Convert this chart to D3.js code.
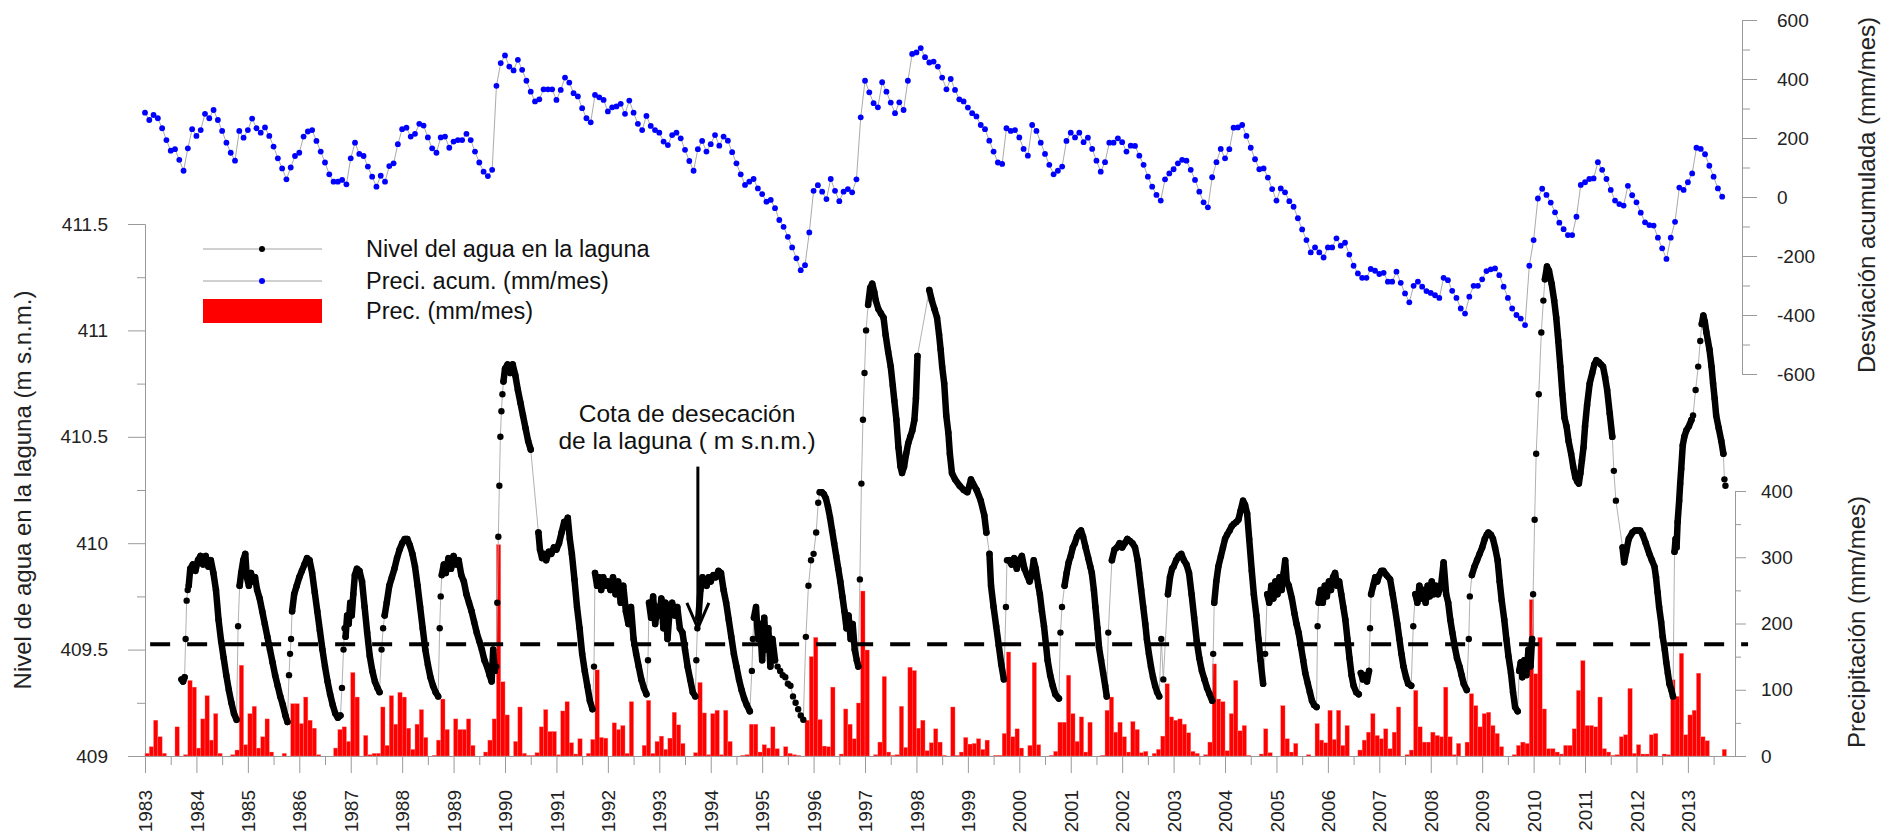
<!DOCTYPE html>
<html lang="es">
<head>
<meta charset="utf-8">
<title>Nivel de la laguna y precipitación</title>
<script src="https://cdn.jsdelivr.net/npm/d3@7/dist/d3.min.js"></script>
<style>
  body { margin: 0; background: #fff; }
  svg { display: block; font-family: Arial, "Liberation Sans", sans-serif; }
  .axis path, .axis line { stroke: #9a9a9a; stroke-width: 1; }
  .axis text { fill: #222; font-size: 19px; font-family: Arial, "Liberation Sans", sans-serif; }
</style>
</head>
<body>
<div id="graph"></div>
<script>
// ---------- datos ----------
const anios = d3.range(1983, 2014);              // etiquetas del eje X
const tickNivel = [409, 409.5, 410, 410.5, 411, 411.5];
const tickDesv = [-600, -400, -200, 0, 200, 400, 600];
const tickPrec = [0, 100, 200, 300, 400];
const cotaDesecacion = 409.525;

// precipitación mensual (mm/mes), una fila por año, ene..dic
const precMensual = [
  [4, 14, 54, 29, 4, 0, 0, 44, 0, 2, 114, 104],      // 1983
  [12, 56, 91, 24, 64, 4, 0, 0, 2, 9, 137, 17],      // 1984
  [64, 75, 12, 29, 56, 6, 0, 0, 4, 0, 79, 79],       // 1985
  [49, 89, 54, 42, 2, 0, 0, 0, 12, 40, 44, 22],      // 1986
  [126, 89, 0, 31, 2, 4, 4, 74, 16, 91, 48, 96],     // 1987
  [89, 42, 10, 48, 70, 28, 0, 1, 24, 86, 40, 0],     // 1988
  [56, 40, 40, 56, 16, 0, 0, 6, 24, 56, 319, 112],   // 1989
  [62, 0, 22, 74, 4, 1, 1, 5, 44, 70, 37, 37],       // 1990
  [2, 68, 82, 20, 3, 26, 0, 4, 25, 130, 28, 27],     // 1991
  [0, 50, 40, 46, 4, 82, 0, 0, 16, 84, 4, 22],       // 1992
  [30, 10, 27, 66, 47, 19, 0, 0, 5, 111, 65, 2],     // 1993
  [64, 69, 2, 69, 22, 0, 0, 1, 2, 48, 48, 6],        // 1994
  [17, 12, 44, 11, 0, 14, 4, 2, 1, 0, 54, 150],      // 1995
  [179, 55, 15, 14, 104, 0, 3, 71, 48, 26, 80, 249], // 1996
  [160, 0, 2, 21, 120, 6, 1, 2, 75, 13, 134, 129],   // 1997
  [42, 54, 8, 20, 41, 21, 1, 0, 74, 1, 6, 28],       // 1998
  [18, 19, 26, 10, 24, 0, 1, 1, 34, 157, 29, 41],    // 1999
  [12, 0, 16, 141, 17, 0, 0, 1, 7, 51, 51, 122],     // 2000
  [64, 22, 59, 6, 51, 0, 0, 1, 69, 89, 36, 51],      // 2001
  [29, 6, 52, 40, 5, 7, 0, 4, 10, 30, 109, 59],      // 2002
  [54, 56, 48, 35, 7, 4, 0, 2, 21, 139, 86, 82],     // 2003
  [8, 64, 114, 38, 46, 1, 0, 0, 3, 41, 5, 0],        // 2004
  [0, 76, 26, 6, 19, 0, 0, 2, 0, 49, 24, 20],        // 2005
  [69, 25, 69, 16, 46, 0, 0, 9, 24, 36, 64, 31],     // 2006
  [26, 41, 11, 36, 74, 0, 2, 9, 99, 44, 21, 21],     // 2007
  [36, 31, 29, 104, 29, 2, 19, 0, 21, 94, 76, 44],   // 2008
  [64, 66, 46, 34, 14, 0, 0, 2, 16, 21, 19, 236],    // 2009
  [124, 179, 71, 11, 11, 6, 3, 16, 16, 41, 99, 144], // 2010
  [46, 46, 44, 89, 11, 6, 1, 2, 29, 32, 102, 4],     // 2011
  [17, 3, 3, 32, 34, 0, 3, 2, 115, 90, 155, 32],     // 2012
  [62, 69, 125, 29, 23, 0, 0, 0, 10, 0, 0, 0]        // 2013
];

// desviación acumulada de la precipitación (mm/mes), un valor por mes desde enero de 1983
const desviacion = [
  286, 261, 278, 267, 233, 193, 157, 162, 126, 89, 165, 230,
  207, 227, 282, 267, 295, 261, 224, 184, 150, 123, 224, 201,
  227, 266, 233, 218, 236, 207, 171, 131, 97, 60, 100, 139,
  150, 205, 222, 227, 190, 154, 117, 77, 52, 52, 58, 43,
  131, 184, 146, 139, 103, 69, 35, 72, 52, 105, 114, 179,
  230, 235, 205, 214, 248, 242, 202, 165, 150, 202, 205, 167,
  188, 193, 193, 214, 193, 154, 117, 86, 71, 92, 377, 454,
  480, 442, 429, 465, 431, 394, 357, 324, 331, 365, 365, 365,
  329, 363, 405, 388, 352, 341, 301, 267, 253, 346, 338, 329,
  290, 304, 307, 316, 282, 327, 286, 248, 227, 275, 241, 227,
  218, 188, 176, 210, 218, 199, 160, 122, 89, 162, 190, 154,
  179, 210, 174, 205, 191, 152, 114, 77, 41, 52, 61, 29,
  10, -16, -10, -38, -78, -101, -135, -171, -208, -248, -231, -120,
  21, 40, 18, -7, 61, 21, -14, 18, 27, 16, 60, 270,
  394, 355, 318, 304, 389, 357, 320, 284, 321, 295, 394, 485,
  490, 505, 474, 456, 459, 442, 405, 365, 400, 363, 331, 324,
  303, 284, 273, 244, 230, 191, 154, 117, 112, 233, 224, 227,
  202, 163, 140, 244, 224, 184, 146, 109, 77, 89, 103, 190,
  218, 202, 218, 186, 201, 163, 123, 86, 118, 184, 184, 199,
  186, 154, 174, 173, 140, 109, 69, 35, 7, -12, 60, 80,
  94, 114, 126, 123, 92, 58, 18, -18, -35, 67, 118, 163,
  131, 162, 235, 236, 244, 207, 167, 128, 94, 97, 66, 27,
  -12, 29, 16, -14, -33, -72, -110, -146, -188, -171, -188, -205,
  -171, -171, -140, -165, -155, -195, -233, -259, -274, -274, -244, -250,
  -261, -257, -287, -287, -253, -291, -327, -357, -301, -287, -304, -319,
  -325, -333, -342, -274, -282, -318, -342, -378, -395, -338, -301, -301,
  -279, -251, -245, -242, -265, -304, -342, -378, -400, -412, -434, -233,
  -146, -5, 28, 7, -19, -52, -87, -109, -129, -129, -67, 41,
  50, 61, 63, 118, 92, 61, 24, -12, -24, -29, 38, 6,
  -18, -53, -86, -95, -97, -138, -174, -210, -138, -84, 32, 24,
  50, 80, 167, 163, 145, 106, 69, 29, 1
];

// nivel del agua en la laguna (m s.n.m.): tramos de medidas seguidas [año decimal, nivel]
const nivelTramos = [
  [[1983.71,409.36],[1983.74,409.35],[1983.77,409.37]],
  [[1983.85,409.8],[1983.88,409.88],[1983.93,409.9],[1983.98,409.87],[1984.03,409.92],[1984.08,409.94],[1984.13,409.9],[1984.18,409.94],[1984.23,409.89],[1984.28,409.92],[1984.33,409.86],[1984.38,409.78],[1984.43,409.64],[1984.48,409.54],[1984.53,409.46],[1984.58,409.38],[1984.63,409.31],[1984.68,409.25],[1984.73,409.2],[1984.78,409.17]],
  [[1984.84,409.8],[1984.87,409.86],[1984.91,409.92],[1984.95,409.95],[1984.98,409.84],[1985.02,409.8],[1985.06,409.86],[1985.1,409.82],[1985.14,409.84],[1985.18,409.78],[1985.23,409.74],[1985.28,409.68],[1985.33,409.62],[1985.38,409.56],[1985.43,409.5],[1985.48,409.44],[1985.53,409.38],[1985.58,409.33],[1985.63,409.28],[1985.68,409.24],[1985.73,409.19],[1985.77,409.16]],
  [[1985.86,409.68],[1985.9,409.76],[1985.95,409.8],[1986.0,409.84],[1986.05,409.87],[1986.1,409.9],[1986.15,409.93],[1986.2,409.92],[1986.25,409.86],[1986.3,409.77],[1986.35,409.68],[1986.4,409.59],[1986.45,409.5],[1986.5,409.42],[1986.55,409.35],[1986.6,409.29],[1986.65,409.24],[1986.7,409.2],[1986.75,409.18],[1986.8,409.19]],
  [[1986.9,409.56],[1986.93,409.66],[1986.96,409.62],[1986.99,409.72],[1987.02,409.66],[1987.05,409.76],[1987.08,409.85],[1987.12,409.88],[1987.17,409.87],[1987.22,409.82],[1987.27,409.7],[1987.32,409.58],[1987.37,409.47],[1987.42,409.4],[1987.47,409.35],[1987.52,409.32],[1987.56,409.3]],
  [[1987.66,409.66],[1987.7,409.72],[1987.75,409.8],[1987.8,409.84],[1987.85,409.88],[1987.9,409.93],[1987.95,409.97],[1988.0,410.0],[1988.05,410.02],[1988.1,410.02],[1988.15,409.99],[1988.2,409.95],[1988.25,409.89],[1988.3,409.8],[1988.35,409.7],[1988.4,409.6],[1988.45,409.5],[1988.5,409.43],[1988.55,409.37],[1988.6,409.33],[1988.65,409.3],[1988.7,409.28]],
  [[1988.77,409.85],[1988.81,409.9],[1988.85,409.86],[1988.9,409.93],[1988.95,409.88],[1989.0,409.94],[1989.05,409.9],[1989.1,409.92],[1989.15,409.85],[1989.2,409.82],[1989.25,409.76],[1989.3,409.72],[1989.35,409.68],[1989.4,409.63],[1989.45,409.58],[1989.5,409.54],[1989.55,409.5],[1989.6,409.45],[1989.65,409.42],[1989.7,409.38],[1989.74,409.35],[1989.77,409.5],[1989.8,409.4]],
  [[1989.97,410.76],[1990.0,410.82],[1990.05,410.84],[1990.1,410.8],[1990.15,410.84],[1990.2,410.79],[1990.25,410.72],[1990.3,410.66],[1990.35,410.6],[1990.4,410.54],[1990.45,410.48],[1990.5,410.44]],
  [[1990.65,410.05],[1990.68,409.97],[1990.72,409.93],[1990.76,409.95],[1990.8,409.92],[1990.85,409.96],[1990.9,409.95],[1990.95,409.98],[1991.0,409.97],[1991.05,410.0],[1991.1,410.05],[1991.15,410.1],[1991.19,410.08],[1991.22,410.12],[1991.26,410.02],[1991.3,409.95],[1991.35,409.83],[1991.4,409.7],[1991.45,409.6],[1991.5,409.48],[1991.55,409.4],[1991.6,409.33],[1991.65,409.26],[1991.7,409.22]],
  [[1991.75,409.86],[1991.79,409.8],[1991.83,409.84],[1991.87,409.78],[1991.91,409.84],[1991.95,409.8],[1992.0,409.82],[1992.05,409.78],[1992.1,409.84],[1992.15,409.76],[1992.2,409.82],[1992.25,409.72],[1992.3,409.8],[1992.35,409.68],[1992.4,409.62],[1992.45,409.7],[1992.5,409.55],[1992.55,409.48],[1992.6,409.42],[1992.65,409.36],[1992.7,409.32],[1992.75,409.29]],
  [[1992.8,409.72],[1992.84,409.65],[1992.88,409.75],[1992.92,409.62],[1992.96,409.7],[1993.0,409.66],[1993.04,409.74],[1993.08,409.6],[1993.12,409.72],[1993.16,409.55],[1993.2,409.68],[1993.25,409.72],[1993.3,409.66],[1993.35,409.7],[1993.4,409.6],[1993.45,409.58],[1993.5,409.5],[1993.55,409.42],[1993.6,409.36],[1993.65,409.3],[1993.7,409.28]],
  [[1993.76,409.65],[1993.8,409.78],[1993.84,409.84],[1993.88,409.82],[1993.92,409.8],[1993.96,409.84],[1994.0,409.82],[1994.05,409.85],[1994.1,409.84],[1994.15,409.87],[1994.2,409.86],[1994.25,409.78],[1994.3,409.72],[1994.35,409.64],[1994.4,409.56],[1994.45,409.48],[1994.5,409.42],[1994.55,409.36],[1994.6,409.31],[1994.65,409.27],[1994.7,409.24],[1994.76,409.21]],
  [[1994.84,409.65],[1994.88,409.7],[1994.92,409.55],[1994.96,409.62],[1995.0,409.45],[1995.04,409.65],[1995.08,409.5],[1995.12,409.6],[1995.16,409.42],[1995.2,409.55],[1995.25,409.45]],
  [[1996.12,410.24],[1996.16,410.24],[1996.2,410.23],[1996.24,410.21],[1996.28,410.17],[1996.32,410.12],[1996.36,410.06],[1996.4,410.0],[1996.44,409.94],[1996.48,409.88],[1996.52,409.82],[1996.56,409.75],[1996.6,409.68],[1996.64,409.6],[1996.68,409.66],[1996.72,409.55],[1996.76,409.62],[1996.8,409.5],[1996.84,409.45],[1996.87,409.42]],
  [[1997.06,411.12],[1997.1,411.2],[1997.14,411.22],[1997.18,411.18],[1997.21,411.14],[1997.26,411.1],[1997.31,411.08],[1997.36,411.06],[1997.4,410.98],[1997.45,410.9],[1997.5,410.83],[1997.54,410.74],[1997.57,410.67],[1997.61,410.58],[1997.65,410.45],[1997.69,410.36],[1997.72,410.33],[1997.76,410.36],[1997.8,410.42],[1997.84,410.47],[1997.88,410.5],[1997.92,410.53],[1997.96,410.58],[1997.99,410.68],[1998.02,410.88]],
  [[1998.25,411.19],[1998.3,411.14],[1998.35,411.1],[1998.4,411.06],[1998.44,410.98],[1998.47,410.91],[1998.5,410.83],[1998.54,410.75],[1998.58,410.6],[1998.62,410.52],[1998.65,410.42],[1998.69,410.33],[1998.75,410.3],[1998.84,410.27],[1998.92,410.25],[1998.99,410.24],[1999.03,410.27],[1999.06,410.3],[1999.1,410.28],[1999.17,410.25],[1999.25,410.2],[1999.32,410.13],[1999.36,410.05]],
  [[1999.42,409.95],[1999.45,409.8],[1999.5,409.7],[1999.55,409.61],[1999.6,409.52],[1999.65,409.43],[1999.7,409.36]],
  [[1999.8,409.92],[1999.85,409.9],[1999.9,409.93],[1999.95,409.88],[2000.0,409.92],[2000.05,409.94],[2000.1,409.88],[2000.15,409.85],[2000.2,409.82],[2000.24,409.85],[2000.28,409.92],[2000.32,409.88],[2000.37,409.8],[2000.4,409.76],[2000.44,409.68],[2000.48,409.61],[2000.52,409.52],[2000.55,409.45],[2000.6,409.38],[2000.65,409.33],[2000.7,409.29],[2000.77,409.27]],
  [[2000.88,409.8],[2000.92,409.86],[2000.96,409.91],[2001.0,409.94],[2001.04,409.98],[2001.08,410.0],[2001.12,410.03],[2001.16,410.05],[2001.2,410.06],[2001.24,410.03],[2001.29,409.98],[2001.34,409.93],[2001.38,409.89],[2001.41,409.86],[2001.45,409.78],[2001.48,409.7],[2001.52,409.6],[2001.55,409.51],[2001.59,409.45],[2001.63,409.39],[2001.67,409.33],[2001.7,409.28]],
  [[2001.8,409.92],[2001.85,409.97],[2001.9,409.98],[2001.95,410.0],[2002.0,409.98],[2002.05,410.0],[2002.1,410.02],[2002.15,410.01],[2002.2,410.0],[2002.25,409.98],[2002.3,409.92],[2002.33,409.86],[2002.37,409.78],[2002.41,409.7],[2002.45,409.62],[2002.48,409.55],[2002.52,409.48],[2002.56,409.42],[2002.6,409.37],[2002.64,409.33],[2002.68,409.3],[2002.72,409.28]],
  [[2002.89,409.76],[2002.93,409.84],[2002.97,409.88],[2003.0,409.89],[2003.05,409.92],[2003.1,409.94],[2003.15,409.95],[2003.2,409.92],[2003.25,409.9],[2003.3,409.86],[2003.35,409.76],[2003.4,409.65],[2003.45,409.54],[2003.5,409.46],[2003.55,409.4],[2003.6,409.36],[2003.65,409.32],[2003.7,409.29],[2003.75,409.26]],
  [[2003.79,409.72],[2003.83,409.82],[2003.87,409.89],[2003.92,409.94],[2003.96,409.98],[2004.0,410.02],[2004.04,410.04],[2004.09,410.06],[2004.13,410.08],[2004.17,410.09],[2004.22,410.1],[2004.26,410.11],[2004.3,410.15],[2004.35,410.2],[2004.39,410.18],[2004.43,410.14],[2004.47,410.02],[2004.52,409.87],[2004.56,409.76],[2004.61,409.66],[2004.65,409.55],[2004.69,409.45],[2004.74,409.34]],
  [[2004.82,409.76],[2004.86,409.72],[2004.9,409.8],[2004.94,409.74],[2004.98,409.82],[2005.02,409.76],[2005.06,409.84],[2005.1,409.78],[2005.14,409.86],[2005.17,409.92],[2005.2,409.82],[2005.24,409.8],[2005.3,409.74],[2005.35,409.67],[2005.39,409.62],[2005.43,409.58],[2005.48,409.51],[2005.52,409.45],[2005.56,409.39],[2005.61,409.34],[2005.65,409.3],[2005.69,409.26],[2005.73,409.24],[2005.78,409.23]],
  [[2005.82,409.72],[2005.86,409.78],[2005.9,409.72],[2005.94,409.8],[2005.98,409.75],[2006.02,409.82],[2006.06,409.78],[2006.1,409.84],[2006.14,409.86],[2006.18,409.8],[2006.22,409.82],[2006.26,409.76],[2006.3,409.7],[2006.34,409.64],[2006.38,409.55],[2006.42,409.46],[2006.46,409.38],[2006.5,409.33],[2006.55,409.3],[2006.6,409.29]],
  [[2006.64,409.39],[2006.68,409.36],[2006.72,409.38],[2006.76,409.35],[2006.8,409.4]],
  [[2006.84,409.76],[2006.88,409.8],[2006.92,409.84],[2006.96,409.82],[2007.0,409.85],[2007.04,409.87],[2007.08,409.87],[2007.14,409.85],[2007.21,409.83],[2007.26,409.76],[2007.3,409.7],[2007.35,409.62],[2007.39,409.55],[2007.43,409.48],[2007.47,409.42],[2007.52,409.37],[2007.56,409.34],[2007.62,409.33]],
  [[2007.7,409.76],[2007.74,409.72],[2007.78,409.8],[2007.82,409.74],[2007.86,409.78],[2007.9,409.72],[2007.94,409.8],[2007.98,409.75],[2008.02,409.82],[2008.06,409.76],[2008.1,409.8],[2008.14,409.76],[2008.2,409.8],[2008.25,409.91],[2008.3,409.76],[2008.34,409.72],[2008.38,409.64],[2008.42,409.58],[2008.47,409.51],[2008.51,409.46],[2008.56,409.42],[2008.6,409.38],[2008.64,409.34],[2008.7,409.31]],
  [[2008.8,409.85],[2008.85,409.89],[2008.9,409.92],[2008.95,409.95],[2009.0,409.98],[2009.05,410.02],[2009.09,410.04],[2009.12,410.05],[2009.17,410.04],[2009.21,410.02],[2009.25,409.98],[2009.3,409.92],[2009.34,409.82],[2009.38,409.73],[2009.43,409.64],[2009.47,409.55],[2009.51,409.47],[2009.56,409.39],[2009.6,409.3],[2009.64,409.23],[2009.69,409.21]],
  [[2009.72,409.4],[2009.75,409.44],[2009.78,409.37],[2009.82,409.45],[2009.86,409.38],[2009.9,409.5],[2009.94,409.42],[2009.97,409.55]],
  [[2010.22,411.24],[2010.26,411.3],[2010.3,411.28],[2010.35,411.22],[2010.4,411.14],[2010.44,411.06],[2010.48,410.95],[2010.52,410.83],[2010.56,410.7],[2010.6,410.59],[2010.64,410.55],[2010.68,410.48],[2010.73,410.42],[2010.77,410.36],[2010.81,410.31],[2010.85,410.29],[2010.88,410.28],[2010.91,410.33],[2010.94,410.39],[2010.97,410.45],[2011.0,410.55],[2011.04,410.65],[2011.09,410.75],[2011.14,410.8],[2011.18,410.84],[2011.22,410.86],[2011.27,410.85],[2011.31,410.84],[2011.35,410.83],[2011.39,410.78],[2011.43,410.72],[2011.48,410.61],[2011.53,410.5]],
  [[2011.73,409.98],[2011.76,409.91],[2011.8,409.96],[2011.85,410.02],[2011.92,410.05],[2011.97,410.06],[2012.02,410.06],[2012.07,410.06],[2012.12,410.04],[2012.18,410.0],[2012.25,409.95],[2012.3,409.92],[2012.35,409.89],[2012.38,409.84],[2012.41,409.77],[2012.44,409.7],[2012.48,409.63],[2012.51,409.56],[2012.55,409.5],[2012.58,409.44],[2012.61,409.39],[2012.64,409.34],[2012.68,409.31],[2012.71,409.28]],
  [[2012.74,409.96],[2012.76,410.02],[2012.78,409.98],[2012.8,410.1],[2012.83,410.2],[2012.85,410.28],[2012.87,410.35],[2012.9,410.46],[2012.93,410.5],[2012.97,410.53],[2013.02,410.55],[2013.07,410.58]],
  [[2013.27,411.03],[2013.3,411.07],[2013.33,411.04],[2013.36,410.99],[2013.39,410.95],[2013.42,410.91],[2013.46,410.83],[2013.49,410.75],[2013.52,410.68],[2013.55,410.6],[2013.6,410.54],[2013.65,410.48],[2013.69,410.42]]
];

// medidas sueltas (subidas rápidas y medidas aisladas)
const nivelSueltos = [
  [1983.79,409.55],[1983.81,409.73],[1983.83,409.78],
  [1984.81,409.61],
  [1985.8,409.38],[1985.82,409.48],[1985.84,409.55],
  [1986.83,409.32],[1986.86,409.5],[1986.88,409.6],
  [1987.6,409.5],[1987.63,409.6],
  [1988.73,409.6],[1988.75,409.75],
  [1989.83,409.42],[1989.85,409.72],[1989.87,410.03],[1989.89,410.27],[1989.91,410.5],[1989.93,410.62],[1989.95,410.7],
  [1991.73,409.42],
  [1992.78,409.45],
  [1993.72,409.45],[1993.74,409.6],
  [1994.8,409.4],[1994.82,409.55],
  [1995.3,409.42],[1995.35,409.4],[1995.4,409.38],[1995.45,409.37],[1995.5,409.34],[1995.55,409.33],[1995.6,409.28],[1995.65,409.25],[1995.7,409.22],[1995.75,409.19],[1995.8,409.17],
  [1995.85,409.56],[1995.9,409.8],[1995.95,409.92],[1996.0,409.95],[1996.05,410.05],[1996.09,410.19],
  [1996.9,409.83],[1996.93,410.28],[1996.96,410.58],[1996.99,410.8],[1997.02,411.0],
  [1999.74,409.7],[1999.76,409.92],
  [2000.8,409.58],[2000.83,409.7],
  [2001.73,409.58],
  [2002.76,409.55],[2002.8,409.36],
  [2003.77,409.48],
  [2004.78,409.48],
  [2005.8,409.61],
  [2006.82,409.6],
  [2007.66,409.61],
  [2008.74,409.55],[2008.76,409.75],
  [2009.99,409.76],[2010.02,410.11],[2010.05,410.42],[2010.1,410.7],[2010.15,410.99],[2010.19,411.14],
  [2011.56,410.34],[2011.6,410.2],
  [2013.1,410.6],[2013.15,410.72],[2013.2,410.83],[2013.24,410.95],
  [2013.71,410.3],[2013.73,410.27]
];

// ---------- dibujo ----------
const width = 1881, height = 836;
const svg = d3.select("#graph").append("svg")
  .attr("width", width).attr("height", height);

svg.append("rect").attr("width", width).attr("height", height).attr("fill", "#fff");

const x = d3.scaleLinear().domain([1983, 2014]).range([145, 145 + 31 * 51.43]);
const yNivel = d3.scaleLinear().domain([409, 411.5]).range([756, 224]);
const yPrec = d3.scaleLinear().domain([0, 400]).range([756, 491]);
const yDesv = d3.scaleLinear().domain([-600, 600]).range([374, 20]);

// eje izquierdo (nivel)
svg.append("g").attr("class", "axis").attr("transform", "translate(145,0)")
  .call(d3.axisLeft(yNivel).tickValues(d3.range(409.25, 411.5, 0.5)).tickSize(8).tickSizeOuter(0).tickFormat(""));
svg.append("g").attr("class", "axis").attr("transform", "translate(145,0)")
  .call(d3.axisLeft(yNivel).tickValues(tickNivel).tickSize(17).tickSizeOuter(0).tickPadding(20).tickFormat(d => d));

// eje inferior (años)
svg.append("g").attr("class", "axis").attr("transform", "translate(0,756)")
  .call(d3.axisBottom(x).tickValues(anios.map(a => a + 0.5)).tickSize(9).tickSizeOuter(0).tickFormat(""));
const gx = svg.append("g").attr("class", "axis").attr("transform", "translate(0,756)")
  .call(d3.axisBottom(x).tickValues(anios).tickSize(17).tickSizeOuter(0).tickFormat(d => d));
gx.selectAll("text")
  .attr("transform", "rotate(-90)")
  .attr("text-anchor", "end")
  .attr("x", -34).attr("y", 0).attr("dy", "0.35em");

// eje derecho superior (desviación acumulada)
svg.append("g").attr("class", "axis").attr("transform", "translate(1742,0)")
  .call(d3.axisRight(yDesv).tickValues(d3.range(-500, 600, 200)).tickSize(8).tickSizeOuter(0).tickFormat(""));
svg.append("g").attr("class", "axis").attr("transform", "translate(1742,0)")
  .call(d3.axisRight(yDesv).tickValues(tickDesv).tickSize(15).tickSizeOuter(0).tickPadding(20).tickFormat(d => d));

// eje derecho inferior (precipitación)
svg.append("g").attr("class", "axis").attr("transform", "translate(1735,0)")
  .call(d3.axisRight(yPrec).tickValues([50, 150, 250, 350]).tickSize(6).tickSizeOuter(0).tickFormat(""));
svg.append("g").attr("class", "axis").attr("transform", "translate(1735,0)")
  .call(d3.axisRight(yPrec).tickValues(tickPrec).tickSize(11).tickSizeOuter(0).tickPadding(15).tickFormat(d => d));

// títulos de los ejes
function titulo(txt, cx, cy) {
  svg.append("text")
    .attr("transform", "translate(" + cx + "," + cy + ") rotate(-90)")
    .attr("text-anchor", "middle").attr("dy", "0.35em")
    .attr("font-size", 24).attr("fill", "#222")
    .text(txt);
}
titulo("Nivel de agua en la laguna (m s.n.m.)", 23, 490);
titulo("Desviación acumulada (mm/mes)", 1867, 195);
titulo("Precipitación (mm/mes)", 1857, 622);

// barras de precipitación
const barras = [];
precMensual.forEach((fila, i) => {
  fila.forEach((v, m) => barras.push({ t: anios[i] + m / 12, v: v }));
});
svg.append("g").selectAll("rect")
  .data(barras.filter(d => d.v > 0))
  .join("rect")
  .attr("x", d => x(d.t))
  .attr("width", x(1983 + 1 / 12) - x(1983))
  .attr("y", d => yPrec(d.v))
  .attr("height", d => yPrec(0) - yPrec(d.v))
  .attr("fill", "#ff0000")
  .attr("stroke", "#ff7a7a")
  .attr("stroke-width", 0.35);

// desviación acumulada
const desv = desviacion.map((v, i) => ({ t: 1983 + i / 12, v: v }));
svg.append("path").datum(desv)
  .attr("fill", "none").attr("stroke", "#a0a0a0").attr("stroke-width", 0.9)
  .attr("d", d3.line().x(d => x(d.t)).y(d => yDesv(d.v)));
svg.append("g").selectAll("circle")
  .data(desv).join("circle")
  .attr("cx", d => x(d.t)).attr("cy", d => yDesv(d.v))
  .attr("r", 2.9).attr("fill", "#0000ff");

// nivel de la laguna
const todos = nivelTramos.flat().concat(nivelSueltos).sort((a, b) => a[0] - b[0]);
const lineaNivel = d3.line().x(d => x(d[0])).y(d => yNivel(d[1]));
svg.append("path").datum(todos)
  .attr("fill", "none").attr("stroke", "#a8a8a8").attr("stroke-width", 0.9)
  .attr("d", lineaNivel);
svg.append("g").selectAll("path")
  .data(nivelTramos).join("path")
  .attr("fill", "none").attr("stroke", "#000").attr("stroke-width", 6.5)
  .attr("stroke-linecap", "round").attr("stroke-linejoin", "round")
  .attr("d", lineaNivel);
svg.append("g").selectAll("circle")
  .data(todos).join("circle")
  .attr("cx", d => x(d[0])).attr("cy", d => yNivel(d[1]))
  .attr("r", 3.2).attr("fill", "#000");

// cota de desecación
svg.append("line")
  .attr("x1", x(1983.1)).attr("x2", x(2014.17))
  .attr("y1", yNivel(cotaDesecacion)).attr("y2", yNivel(cotaDesecacion))
  .attr("stroke", "#000").attr("stroke-width", 4)
  .attr("stroke-dasharray", "20,17");

// anotación
const ax = x(1993.75);
svg.append("line")
  .attr("x1", ax).attr("x2", ax)
  .attr("y1", yNivel(410.36)).attr("y2", yNivel(409.6))
  .attr("stroke", "#000").attr("stroke-width", 3);
svg.append("path")
  .attr("d", "M" + (ax - 11) + "," + yNivel(409.72) + "L" + ax + "," + yNivel(409.6) + "L" + (ax + 11) + "," + yNivel(409.72))
  .attr("fill", "none").attr("stroke", "#000").attr("stroke-width", 3);
const nota = svg.append("text").attr("text-anchor", "middle")
  .attr("font-size", 24.5).attr("fill", "#111");
nota.append("tspan").attr("x", x(1993.54)).attr("y", 422).text("Cota de desecación");
nota.append("tspan").attr("x", x(1993.54)).attr("y", 449).text("de la laguna ( m s.n.m.)");

// leyenda
const leg = svg.append("g");
const filas = [
  { y: 249, color: "#000", txt: "Nivel del agua en la laguna" },
  { y: 281, color: "#0000ff", txt: "Preci. acum. (mm/mes)" }
];
filas.forEach(f => {
  leg.append("line").attr("x1", 203).attr("x2", 322).attr("y1", f.y).attr("y2", f.y)
    .attr("stroke", "#a0a0a0").attr("stroke-width", 1);
  leg.append("circle").attr("cx", 262).attr("cy", f.y).attr("r", 3).attr("fill", f.color);
  leg.append("text").attr("x", 366).attr("y", f.y).attr("dy", "0.35em")
    .attr("font-size", 23.5).attr("fill", "#111").text(f.txt);
});
leg.append("rect").attr("x", 203).attr("y", 299).attr("width", 119).attr("height", 24).attr("fill", "#ff0000");
leg.append("text").attr("x", 366).attr("y", 311).attr("dy", "0.35em")
  .attr("font-size", 23.5).attr("fill", "#111").text("Prec. (mm/mes)");
</script>
</body>
</html>
